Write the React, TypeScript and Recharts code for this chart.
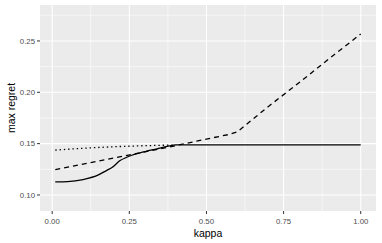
import React from "react";
import { LineChart, Line, XAxis, YAxis, CartesianGrid } from "recharts";

// kappa / max regret readings per series
const solidKappa = [0.01, 0.05, 0.1, 0.15, 0.177, 0.195, 0.22, 0.24, 0.285, 0.34, 0.38, 0.4, 1.0];
const solidRegret = [0.1127, 0.113, 0.115, 0.1195, 0.124, 0.127, 0.1335, 0.1365, 0.141, 0.145, 0.1478, 0.1487, 0.1487];

const dashedKappa = [0.01, 0.1, 0.2, 0.3, 0.4, 0.5, 0.575, 0.6, 0.7, 0.8, 0.9, 1.0];
const dashedRegret = [0.1247, 0.13, 0.136, 0.142, 0.148, 0.1545, 0.159, 0.1615, 0.186, 0.2093, 0.2333, 0.2568];

const dottedKappa = [0.01, 0.1, 0.2, 0.3, 0.4];
const dottedRegret = [0.1437, 0.1455, 0.147, 0.148, 0.1487];

const xTicks = [0, 0.25, 0.5, 0.75, 1];
const xMinor = [0.125, 0.375, 0.625, 0.875];
const yTicks = [0.1, 0.15, 0.2, 0.25];
const yMinor = [0.125, 0.175, 0.225, 0.275];

const toRows = (ks: number[], vs: number[]) => ks.map((k, i) => ({ kappa: k, regret: vs[i] }));

const font = "Liberation Sans, Arial, sans-serif";
const tickStyle = { fontSize: 7.8, fill: "#4D4D4D", fontFamily: font };

const YLabel = (props: any) => {
  const { x, y, height } = props.viewBox;
  const cx = x + 11;
  const cy = y + height / 2;
  return (
    <text
      x={cx}
      y={cy}
      transform={`rotate(-90 ${cx} ${cy})`}
      textAnchor="middle"
      dominantBaseline="central"
      fontSize={10.5}
      fontFamily={font}
      fill="#000"
    >
      max regret
    </text>
  );
};

export default function App() {
  return (
    <div style={{ position: "absolute", left: 0, top: 0 }}>
      <LineChart width={382} height={243} margin={{ top: 5, right: 6, left: 0, bottom: 0 }}>
        <CartesianGrid
          fill="#EBEBEB"
          stroke="#FFFFFF"
          strokeWidth={0.55}
          horizontalValues={yMinor}
          verticalValues={xMinor}
        />
        <CartesianGrid
          stroke="#FFFFFF"
          strokeWidth={1.07}
          horizontalValues={yTicks}
          verticalValues={xTicks}
        />
        <XAxis
          dataKey="kappa"
          type="number"
          domain={[-0.0395, 1.0495]}
          allowDataOverflow
          ticks={xTicks}
          tickFormatter={(v: number) => v.toFixed(2)}
          tick={tickStyle}
          tickSize={3}
          tickMargin={4}
          tickLine={{ stroke: "#333333" }}
          axisLine={false}
          height={32}
          label={{
            value: "kappa",
            position: "insideBottom",
            offset: 6,
            style: { fontSize: 10.5, fill: "#000", fontFamily: font },
          }}
        />
        <YAxis
          type="number"
          domain={[0.0844, 0.285]}
          allowDataOverflow
          ticks={yTicks}
          tickFormatter={(v: number) => v.toFixed(2)}
          tick={tickStyle}
          tickSize={3}
          tickMargin={2}
          tickLine={{ stroke: "#333333" }}
          axisLine={false}
          width={40}
          label={<YLabel />}
        />
        <Line
          data={toRows(solidKappa, solidRegret)}
          dataKey="regret"
          type="monotone"
          stroke="#000"
          strokeWidth={1.3}
          dot={false}
          isAnimationActive={false}
        />
        <Line
          data={toRows(dashedKappa, dashedRegret)}
          dataKey="regret"
          type="linear"
          stroke="#000"
          strokeWidth={1.3}
          strokeDasharray="5 4"
          dot={false}
          isAnimationActive={false}
        />
        <Line
          data={toRows(dottedKappa, dottedRegret)}
          dataKey="regret"
          type="linear"
          stroke="#000"
          strokeWidth={1.3}
          strokeDasharray="1.4 2.9"
          dot={false}
          isAnimationActive={false}
        />
      </LineChart>
    </div>
  );
}
